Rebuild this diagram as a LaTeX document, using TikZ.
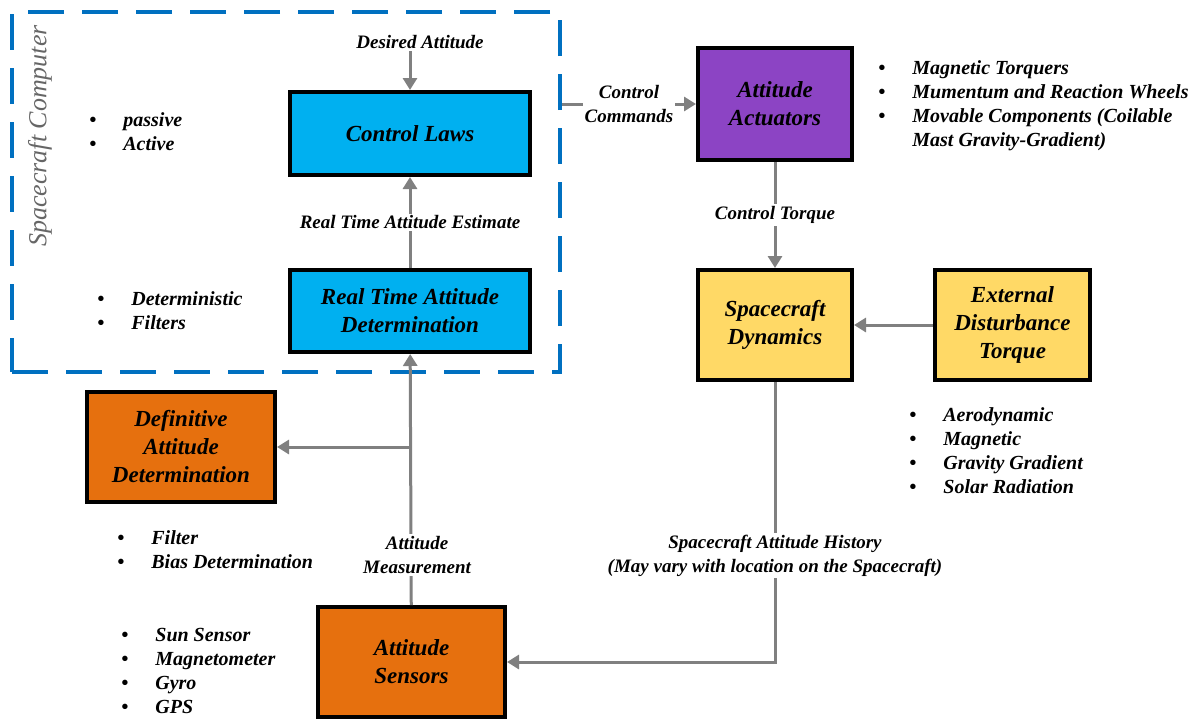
\documentclass[tikz,border=0pt]{standalone}
\usepackage{fontspec}
\setmainfont{Liberation Serif}
\usetikzlibrary{arrows.meta}

\definecolor{compblue}{HTML}{0070C0}
\definecolor{lawblue}{HTML}{00B0F0}
\definecolor{actpurple}{RGB}{140,68,196}
\definecolor{sensorange}{RGB}{230,112,14}
\definecolor{dynyellow}{HTML}{FFD966}
\definecolor{conngray}{HTML}{808080}

\newcommand{\bitem}{\makebox[17pt][l]{\textbullet}}

\begin{document}
\begin{tikzpicture}[x=0.5pt, y=-0.5pt,
  box/.style={draw=black, line width=2pt, align=center, inner sep=2pt,
    font=\fontsize{11.5}{14}\selectfont\bfseries\itshape},
  lbl/.style={align=center, inner sep=1pt,
    font=\fontsize{9.5}{12}\selectfont\bfseries\itshape},
  lst/.style={align=left, anchor=west, inner sep=0pt,
    font=\fontsize{10}{12}\selectfont\bfseries\itshape},
  conn/.style={draw=conngray, line width=1.5pt, -{Triangle[width=7pt,length=6pt]}},
  frame/.style={draw=compblue, line width=2pt, dash pattern=on 18pt off 9pt}]
\useasboundingbox (0,0) rectangle (1200,718);

% spacecraft computer
\node [frame, minimum width=274pt, minimum height=180pt] (comp) at (286,192) {};
\node [rotate=90, text=black!60, font=\fontsize{13}{15}\selectfont\itshape] (complbl) at (40,136) {Spacecraft Computer};

% blocks
\node [box, fill=lawblue, minimum width=120pt, minimum height=41.5pt] (cl) at (410,133.5) {Control Laws};
\node [box, fill=lawblue, minimum width=120pt, minimum height=41pt] (rtad) at (410,311) {Real Time Attitude\\Determination};
\node [box, fill=sensorange, minimum width=94pt, minimum height=55pt] (dad) at (181,447) {Definitive\\Attitude\\Determination};
\node [box, fill=sensorange, minimum width=93.5pt, minimum height=55pt] (sens) at (411.5,662) {Attitude\\Sensors};
\node [box, fill=actpurple, minimum width=77pt, minimum height=56pt] (act) at (775,104) {Attitude\\Actuators};
\node [box, fill=dynyellow, minimum width=77pt, minimum height=55pt] (dyn) at (775,325) {Spacecraft\\Dynamics};
\node [box, fill=dynyellow, minimum width=77.5pt, minimum height=55pt] (ext) at (1012.5,325) {External\\Disturbance\\Torque};

% bullet lists
\node [lst] (lawlist) at (89,131.5) {\bitem passive\\\bitem Active};
\node [lst] (rtadlist) at (97,311) {\bitem Deterministic\\\bitem Filters};
\node [lst] (dadlist) at (117,550) {\bitem Filter\\\bitem Bias Determination};
\node [lst] (senslist) at (121,670.5) {\bitem Sun Sensor\\\bitem Magnetometer\\\bitem Gyro\\\bitem GPS};
\node [lst] (actlist) at (878,105.5) {\bitem Magnetic Torquers\\\bitem Mumentum and Reaction Wheels\\\bitem Movable Components (Coilable\\\hspace*{17pt}Mast Gravity-Gradient)};
\node [lst] (extlist) at (909,451) {\bitem Aerodynamic\\\bitem Magnetic\\\bitem Gravity Gradient\\\bitem Solar Radiation};

% connectors
\node [lbl] (desired) at (420,42) {Desired Attitude};
\draw [conn] (cl.north |- desired.south) -- (cl.north);
\draw [conn] (rtad) -- node [lbl, fill=white] {Real Time Attitude Estimate} (cl);
\draw [conn] (sens) -- node [lbl, fill=white, pos=0.2, xshift=3pt] {Attitude\\Measurement} (rtad);
\coordinate (split) at (sens.north |- dad.east);
\draw [conn] (split) -- (dad);
\draw [conn] (comp.east |- act.west) -- node [lbl, fill=white] {Control\\Commands} (act.west);
\draw [conn] (act) -- node [lbl, fill=white] {Control Torque} (dyn);
\draw [conn] (ext) -- (dyn);
\draw [conn] (dyn.south) -- node [lbl, fill=white, pos=0.62] {Spacecraft Attitude History\\(May vary with location on the Spacecraft)} (dyn.south |- sens.east) -- (sens.east);
\end{tikzpicture}
\end{document}
